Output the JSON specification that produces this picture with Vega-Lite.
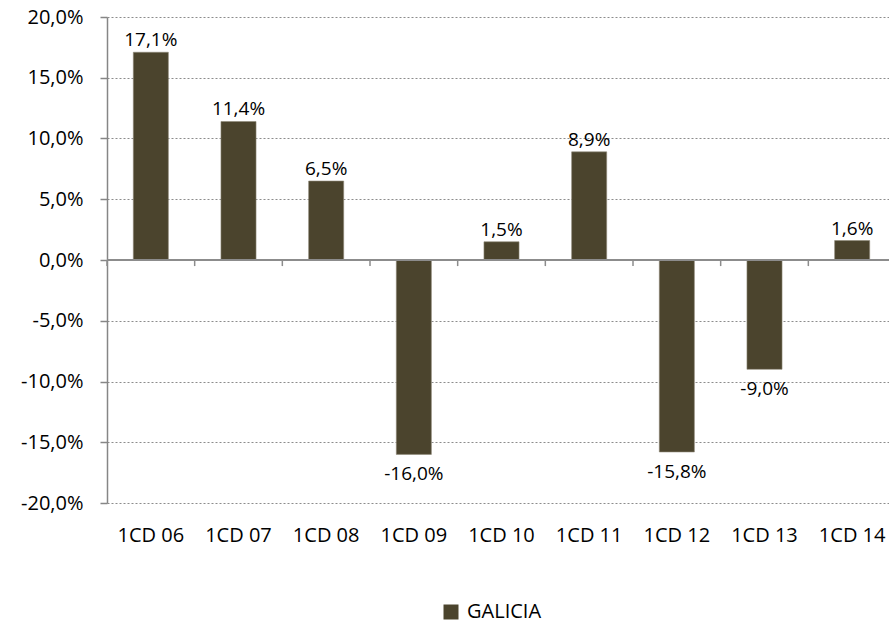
{
  "$schema": "https://vega.github.io/schema/vega-lite/v6.json",
  "width": 789,
  "height": 486,
  "autosize": {"type": "none"},
  "padding": {"left": 107, "top": 17, "right": 0, "bottom": 120},
  "background": "white",
  "config": {
    "locale": {"number": {"decimal": ",", "thousands": ".", "grouping": [3], "currency": ["", " €"], "minus": "-"}},
    "view": {"stroke": null},
    "font": "Open Sans"
  },
  "data": {
    "values": [
      {"periodo": "1CD 06", "valor": 0.171, "serie": "GALICIA"},
      {"periodo": "1CD 07", "valor": 0.114, "serie": "GALICIA"},
      {"periodo": "1CD 08", "valor": 0.065, "serie": "GALICIA"},
      {"periodo": "1CD 09", "valor": -0.160, "serie": "GALICIA"},
      {"periodo": "1CD 10", "valor": 0.015, "serie": "GALICIA"},
      {"periodo": "1CD 11", "valor": 0.089, "serie": "GALICIA"},
      {"periodo": "1CD 12", "valor": -0.158, "serie": "GALICIA"},
      {"periodo": "1CD 13", "valor": -0.090, "serie": "GALICIA"},
      {"periodo": "1CD 14", "valor": 0.016, "serie": "GALICIA"}
    ]
  },
  "resolve": {"scale": {"x": "independent"}},
  "layer": [
    {
      "layer": [
        {
          "mark": {"type": "bar", "stroke": "#8f8a78", "strokeWidth": 0.6},
          "encoding": {
            "x": {
              "field": "periodo", "type": "nominal", "sort": null,
              "scale": {"paddingInner": 0.6, "paddingOuter": 0.3},
              "axis": {
                "title": null, "domain": false, "ticks": false, "labelAngle": 0,
                "labelFont": "Open Sans", "labelFontSize": 20, "labelColor": "#000000",
                "labelPadding": 22
              }
            },
            "y": {
              "field": "valor", "type": "quantitative",
              "scale": {"domain": [-0.2, 0.2], "nice": false, "zero": false},
              "axis": {
                "title": null, "format": ".1%", "values": [-0.2, -0.15, -0.1, -0.05, 0, 0.05, 0.1, 0.15, 0.2],
                "domainColor": "#868686", "domainWidth": 1.5,
                "tickColor": "#868686", "tickSize": 7, "tickWidth": 1.5,
                "grid": true, "gridColor": "#8c8c8c", "gridDash": [2, 2], "gridWidth": 1,
                "labelFont": "Open Sans", "labelFontSize": 20, "labelColor": "#000000",
                "labelPadding": 17
              }
            },
            "color": {
              "field": "serie", "type": "nominal",
              "scale": {"range": ["#4b442d"]},
              "legend": {
                "title": null, "orient": "none", "legendX": 334, "legendY": 585,
                "symbolType": "square", "symbolSize": 225, "symbolStrokeWidth": 0,
                "labelFont": "Open Sans", "labelFontSize": 20, "labelColor": "#000000",
                "labelOffset": 6
              }
            }
          }
        },
        {
          "mark": {"type": "rule", "color": "#8c8c8c", "strokeWidth": 1.5},
          "encoding": {"y": {"datum": 0}}
        },
        {
          "transform": [{"filter": "datum.valor >= 0"}],
          "mark": {"type": "text", "baseline": "alphabetic", "dy": -6, "fontSize": 19, "font": "Open Sans", "color": "#000000"},
          "encoding": {
            "x": {"field": "periodo", "type": "nominal", "sort": null},
            "y": {"field": "valor", "type": "quantitative"},
            "text": {"field": "valor", "type": "quantitative", "format": ".1%"}
          }
        },
        {
          "transform": [{"filter": "datum.valor < 0"}],
          "mark": {"type": "text", "baseline": "alphabetic", "dy": 26, "fontSize": 19, "font": "Open Sans", "color": "#000000"},
          "encoding": {
            "x": {"field": "periodo", "type": "nominal", "sort": null},
            "y": {"field": "valor", "type": "quantitative"},
            "text": {"field": "valor", "type": "quantitative", "format": ".1%"}
          }
        }
      ]
    },
    {
      "mark": {"type": "rule", "color": "#8c8c8c", "strokeWidth": 1.5},
      "encoding": {
        "x": {
          "field": "periodo", "type": "nominal", "sort": null, "bandPosition": 0,
          "scale": {"type": "band", "paddingInner": 0, "paddingOuter": 0},
          "axis": null
        },
        "y": {"datum": 0},
        "y2": {"datum": -0.005}
      }
    }
  ]
}
